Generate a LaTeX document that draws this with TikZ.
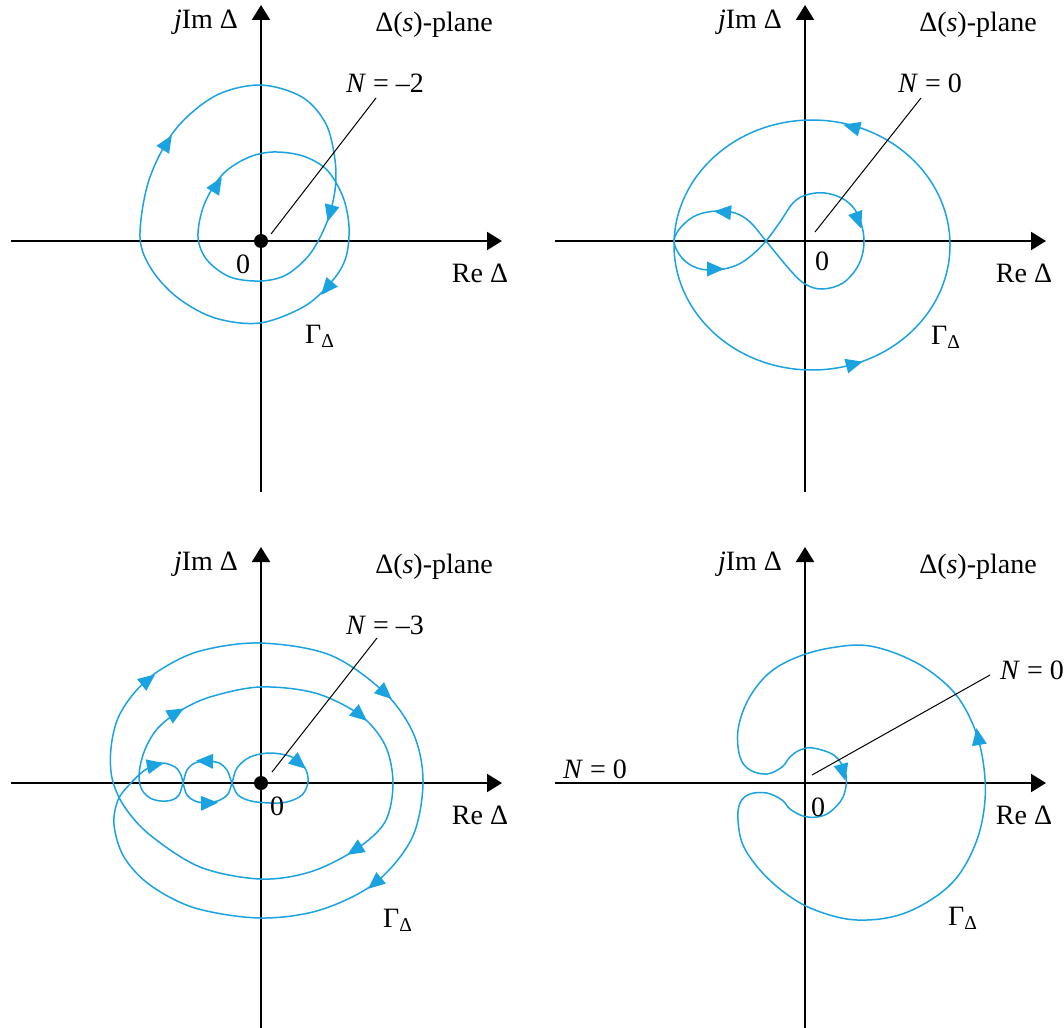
\documentclass[tikz,border=0pt]{standalone}
\usepackage{fontspec}
\setmainfont{Liberation Serif}
\usetikzlibrary{arrows.meta}
\definecolor{nyblue}{HTML}{1AA3E0}

\newcommand{\flowtip}[3]{\fill[nyblue, shift={(#1,#2)}, rotate=#3] (9,0) -- (-8,7.5) -- (-8,-7.5) -- cycle;}

\begin{document}
\begin{tikzpicture}[x=0.5pt, y=-0.5pt, line width=0.5pt,
    axis/.style={line width=1.1pt, -{Triangle[length=7.5pt, width=9pt]}},
    curve/.style={draw=nyblue, line width=0.75pt},
    lead/.style={line width=0.5pt},
    every node/.style={font=\fontsize{14}{16}\selectfont, inner sep=0pt}]
  \useasboundingbox (0,0) rectangle (1064,1027);

  \foreach \ox/\oy/\k in {261/241/a, 805/241/b, 261/783/c, 805/783/d}{
    \draw[axis] (\ox-250,\oy) -- (\ox+241,\oy);
    \draw[axis] (\ox,\oy+251) -- (\ox,\oy-236);
    \node (im\k) at (\ox-55,\oy-219) {\textit{j}Im Δ};
    \node (plane\k) at (\ox+173,\oy-216) {Δ(\textit{s})-plane};
    \node (re\k) at (\ox+219,\oy+32) {Re Δ};
  }

  % N = -2
  \fill (261,241) circle (7);
  \draw[curve] plot[smooth cycle, tension=0.55] coordinates {(260,85) (302,97) (326,124) (335,160)
    (335,190) (327,222) (310,254) (286,275) (260,281) (230,277) (207,260) (198,237)
    (204,205) (222,175) (247,158) (273,152) (303,156) (327,170) (343,197) (349,227) (346,257)
    (333,280) (305,306) (260,323) (215,318) (178,298) (152,270) (140,237) (149,180) (175,130)
    (215,96)};
  \flowtip{330}{213}{-105} \flowtip{217}{185}{58} \flowtip{327}{288}{-130} \flowtip{167}{143}{58}
  \node (zeroa) at (243,264) {0};
  \node (gama) at (320,336) {Γ\textsubscript{Δ}};
  \node (na) at (385,83) {\textit{N} = –2};
  \coordinate (la) at (376,98);
  \coordinate (ta) at (271,234);
  \draw[lead] (la) -- (ta);

  % N = 0, figure eight
  \draw[curve] (812,245) ellipse [x radius=138, y radius=125];
  \draw[curve] plot[smooth cycle, tension=0.6] coordinates {(766,241) (750,222) (735,213) (717,211)
    (697,215) (682,226) (674,241) (682,258) (697,268) (717,270) (737,265) (752,255) (766,241)
    (780,222) (793,203) (806,195) (825,193) (845,200) (858,215) (864,240) (859,264) (843,283)
    (822,289) (805,284) (790,270)};
  \flowtip{852}{127}{165} \flowtip{854}{364}{15} \flowtip{723}{212}{175} \flowtip{715}{269}{0}
  \flowtip{858}{220}{-70}
  \node (zerob) at (822,261) {0};
  \node (gamb) at (946,337) {Γ\textsubscript{Δ}};
  \node (nb) at (930,83) {\textit{N} = 0};
  \coordinate (lb) at (921,98);
  \coordinate (tb) at (815,232);
  \draw[lead] (lb) -- (tb);

  % N = -3
  \fill (261,783) circle (7);
  \draw[curve] plot[smooth cycle, tension=0.55] coordinates {(232,783) (237,768) (250,757) (270,753)
    (292,757) (305,768) (308,782) (302,795) (287,802) (270,803) (251,801) (238,795) (232,783)
    (227,770) (219,763) (207,761) (195,763) (187,770) (183,783) (179,795) (172,800) (161,801)
    (150,798) (142,790) (139,778) (141,762) (147,745) (158,728) (178,712) (210,697) (260,687)
    (315,693) (360,715) (385,745) (393,783) (385,822) (355,850) (310,872) (260,879) (200,867)
    (150,835) (124,806) (112,778) (111,748) (118,718) (135,692) (160,670) (200,651) (260,643)
    (330,655) (385,693) (414,735) (423,783) (412,838) (375,883) (320,910) (260,918) (195,908)
    (150,885) (124,857) (114,825) (118,800) (130,784) (145,770) (161,763) (175,767) (181,775)
    (183,783) (187,795) (195,801) (207,803) (220,800) (228,794)};
  \flowtip{299}{763}{-40} \flowtip{205}{761}{178} \flowtip{209}{803}{2} \flowtip{155}{765}{12}
  \flowtip{176}{713}{30} \flowtip{360}{715}{-40} \flowtip{355}{850}{-148}
  \flowtip{148}{680}{38} \flowtip{385}{693}{-42} \flowtip{375}{883}{-140}
  \node (zeroc) at (277,806) {0};
  \node (gamc) at (398,920) {Γ\textsubscript{Δ}};
  \node (nc) at (385,625) {\textit{N} = –3};
  \coordinate (lc) at (377,638);
  \coordinate (tc) at (272,772);
  \draw[lead] (lc) -- (tc);

  % N = 0, two lobes
  \draw[curve] plot[smooth cycle, tension=0.6] coordinates {(813,748) (835,756) (846,775) (843,797)
    (830,812) (817,817) (803,816) (790,809) (782,800) (767,793) (750,794) (740,803) (738,820)
    (743,845) (760,870) (785,893) (815,910) (857,920) (905,913) (950,885) (975,845) (985,800)
    (982,755) (970,718) (950,688) (915,662) (870,646) (830,648) (795,658) (768,674) (748,700)
    (738,730) (740,757) (750,770) (767,774) (782,767) (790,757) (800,750)};
  \flowtip{843}{772}{-75} \flowtip{978}{737}{100}
  \node (zerod) at (818,807) {0};
  \node (gamd) at (963,918) {Γ\textsubscript{Δ}};
  \node (nd) at (1032,670) {\textit{N} = 0};
  \node (ne) at (595,769) {\textit{N} = 0};
  \coordinate (ld) at (990,675);
  \coordinate (td) at (812,775);
  \draw[lead] (ld) -- (td);
\end{tikzpicture}
\end{document}
